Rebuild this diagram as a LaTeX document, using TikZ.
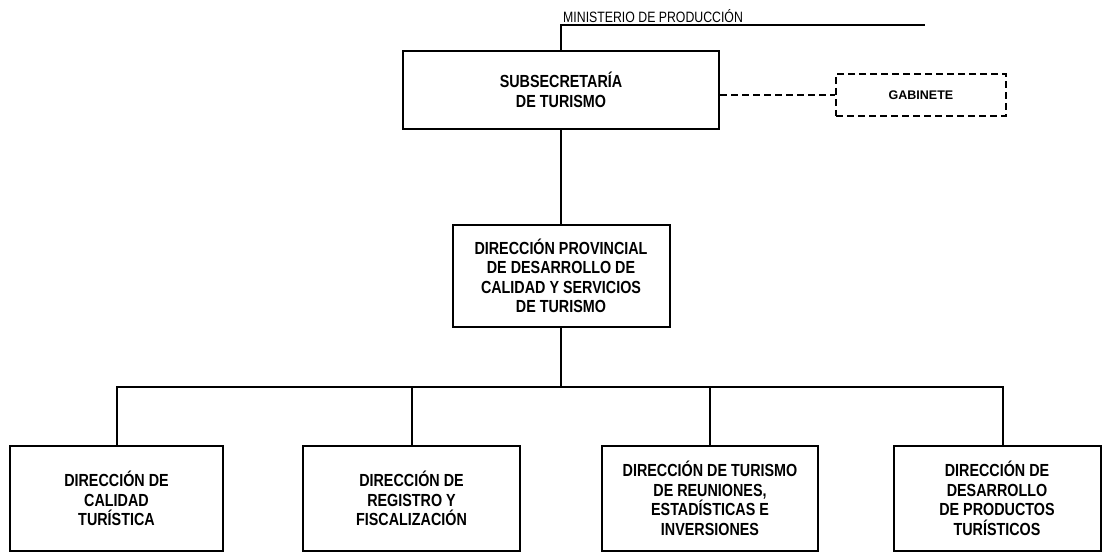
\documentclass[tikz,border=0pt]{standalone}
\usepackage{fontspec}
\setmainfont{Liberation Sans}
\newfontfamily\narrowfont{Liberation Sans}[FakeStretch=0.82]
\usetikzlibrary{positioning}

\begin{document}
\begin{tikzpicture}[x=1pt, y=-1pt,
  box/.style={draw, line width=2pt, align=center, inner sep=0pt,
    font=\narrowfont\bfseries\fontsize{17.5}{19.5}\selectfont},
  link/.style={line width=1.5pt},
  dashlink/.style={line width=1.8pt, dash pattern=on 7pt off 4pt}]
\useasboundingbox (0,0) rectangle (1102,553);

\node[box, minimum width=316, minimum height=78] (subsec) at (561,90) {SUBSECRETARÍA\\DE TURISMO};
\node[box, dashlink, minimum width=170, minimum height=42,
  font=\bfseries\fontsize{12.5}{15}\selectfont] (gabinete) at (921,95) {GABINETE};
\draw[dashlink] (subsec.east |- gabinete.west) -- (gabinete.west);

\coordinate (minend) at (925,25);
\draw[link] (subsec.north) |- (minend);
\node[anchor=south west, inner sep=2pt, font=\narrowfont\fontsize{15}{17}\selectfont]
  (ministerio) at (subsec.north |- minend) {MINISTERIO DE PRODUCCIÓN};

\node[box, minimum width=217, minimum height=102] (dirprov) at (561,276)
  {DIRECCIÓN PROVINCIAL\\DE DESARROLLO DE\\CALIDAD Y SERVICIOS\\DE TURISMO};
\draw[link] (subsec) -- (dirprov);

% direcciones
\node[box, minimum width=213, minimum height=105] (calidad) at (116.5,498.5)
  {DIRECCIÓN DE\\CALIDAD\\TURÍSTICA};
\node[box, minimum width=217, minimum height=105] (registro) at (411.5,498.5)
  {DIRECCIÓN DE\\REGISTRO Y\\FISCALIZACIÓN};
\node[box, minimum width=216, minimum height=105] (reuniones) at (710,498.5)
  {DIRECCIÓN DE TURISMO\\DE REUNIONES,\\ESTADÍSTICAS E\\INVERSIONES};
\node[box, minimum width=207, minimum height=105] (productos) at (997,498.5)
  {DIRECCIÓN DE\\DESARROLLO\\DE PRODUCTOS\\TURÍSTICOS};

\coordinate (bar) at (561,387);
\coordinate (b1) at (117,387);
\coordinate (b2) at (412,387);
\coordinate (b3) at (710,387);
\coordinate (b4) at (1003,387);
\draw[link] (dirprov) -- (bar);
\draw[link] (b1 |- calidad.north) -- (b1) -- (b4) -- (b4 |- productos.north);
\draw[link] (b2) -- (b2 |- registro.north);
\draw[link] (b3) -- (b3 |- reuniones.north);
\end{tikzpicture}
\end{document}
